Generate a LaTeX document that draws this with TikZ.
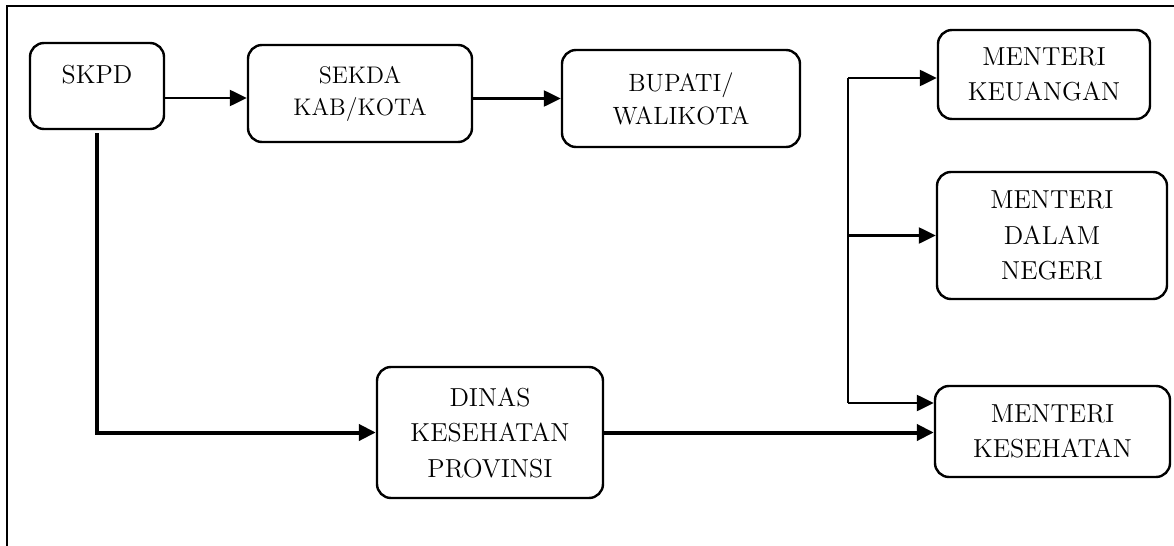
\documentclass[tikz,border=0pt]{standalone}
\usepackage{fontspec}
\usepackage{tikz}
\usetikzlibrary{arrows.meta}
\begin{document}
\begin{tikzpicture}[x=0.5pt,y=-0.5pt]
\tikzstyle{kotak}=[draw,line width=1.2pt,rounded corners=7pt,align=center,inner sep=0pt,font=\fontsize{13}{17.75}\selectfont]
\tikzstyle{panah}=[line width=1.2pt,-{Triangle[length=8.5pt,width=8pt]}]
\tikzstyle{panahtebal}=[line width=2pt,-{Triangle[length=8.5pt,width=8pt]}]
\useasboundingbox (0,0) rectangle (1174,546);
\draw[line width=1pt] (7,546) -- (7,6) -- (1174,6);
\node[kotak,minimum width=67pt,minimum height=43pt,text depth=12pt] (skpd) at (97,86) {SKPD};
\node[kotak,minimum width=112pt,minimum height=48.5pt,font=\fontsize{12}{16}\selectfont] (sekda) at (360,93.5) {SEKDA\\KAB/KOTA};
\node[kotak,minimum width=119pt,minimum height=48.5pt,font=\fontsize{12.5}{16.5}\selectfont] (bupati) at (681,98.5) {BUPATI/\\WALIKOTA};
\node[kotak,minimum width=106pt,minimum height=44.5pt] (keuangan) at (1044,74.5) {MENTERI\\KEUANGAN};
\node[kotak,minimum width=115pt,minimum height=63.5pt] (dalam) at (1052,235.5) {MENTERI\\DALAM\\NEGERI};
\node[kotak,minimum width=113pt,minimum height=65.5pt] (dinas) at (490,432.5) {DINAS\\KESEHATAN\\PROVINSI};
\node[kotak,minimum width=117.5pt,minimum height=45.5pt] (kesehatan) at (1052.5,431.5) {MENTERI\\KESEHATAN};
\coordinate (atas) at (848,78);
\coordinate (bawah) at (848,403);
\draw[panah] ([yshift=-6pt]skpd.east) -- ([yshift=-6pt]skpd.east -| sekda.west);
\draw[panah] (sekda.east |- bupati) -- (bupati.west);
\draw[panahtebal] ([yshift=-1.5pt]skpd.south) |- (dinas.west);
\draw[panahtebal] (dinas.east) -- (dinas.east -| kesehatan.west);
\draw[line width=1pt] (atas) -- (bawah);
\draw[panah] (atas) -- (atas -| keuangan.west);
\draw[panah] (atas |- dalam) -- (dalam.west);
\draw[panah] (bawah) -- (bawah -| kesehatan.west);
\end{tikzpicture}
\end{document}
